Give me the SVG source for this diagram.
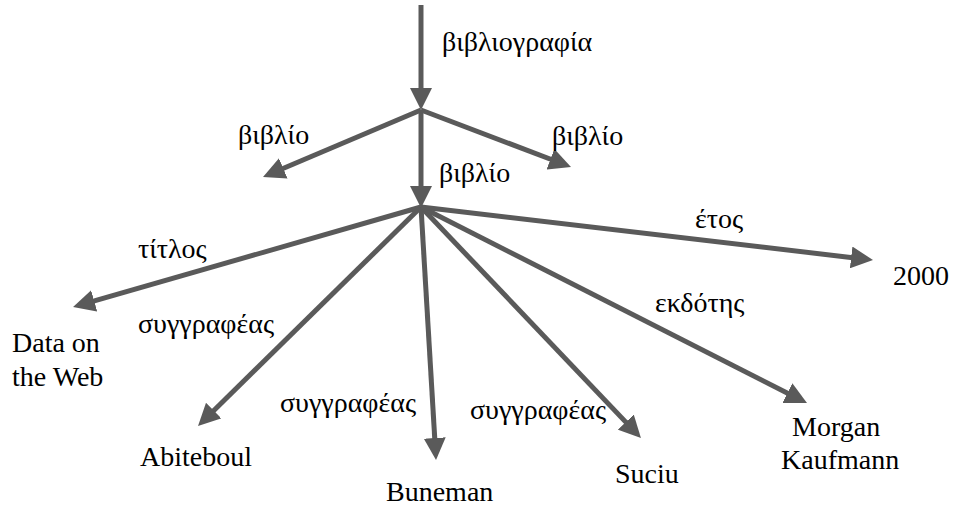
<svg xmlns="http://www.w3.org/2000/svg" width="953" height="508" viewBox="0 0 953 508">
  <style>
    .edge { stroke: #5a5a5a; stroke-width: 5; fill: none; marker-end: url(#head); }
    .lbl { font-family: "Liberation Serif", "Times New Roman", serif; font-size: 28px; fill: #000; }
    .val { font-family: "Liberation Serif", "Times New Roman", serif; font-size: 28px; fill: #000; }
  </style>
  <defs>
    <marker id="head" markerUnits="userSpaceOnUse" viewBox="0 0 22 22" markerWidth="22" markerHeight="22" refX="8" refY="11" orient="auto">
      <path d="M0,0 L22,11 L0,22 z" fill="#5a5a5a"/>
    </marker>
  </defs>
  <rect width="953" height="508" fill="#ffffff"/>

  <g id="connectors">
    <line class="edge" x1="421" y1="5" x2="421" y2="96"/>
    <line class="edge" x1="421" y1="110" x2="275.9" y2="171.5"/>
    <line class="edge" x1="421" y1="110" x2="557.9" y2="162"/>
    <line class="edge" x1="421" y1="110" x2="421" y2="194"/>
    <line class="edge" x1="421" y1="207" x2="86.5" y2="303.1"/>
    <line class="edge" x1="421" y1="207" x2="208" y2="416.2"/>
    <line class="edge" x1="421" y1="207" x2="435.2" y2="446"/>
    <line class="edge" x1="421" y1="207" x2="631.3" y2="427.9"/>
    <line class="edge" x1="421" y1="207" x2="794.5" y2="396.7"/>
    <line class="edge" x1="421" y1="207" x2="859.1" y2="258.4"/>
  </g>

  <g id="edge-labels">
    <text class="lbl" x="442" y="51">βιβλιογραφία</text>
    <text class="lbl" x="238" y="144">βιβλίο</text>
    <text class="lbl" x="552" y="145">βιβλίο</text>
    <text class="lbl" x="439" y="182">βιβλίο</text>
    <text class="lbl" x="138" y="258">τίτλος</text>
    <text class="lbl" x="138" y="333">συγγραφέας</text>
    <text class="lbl" x="695" y="228">έτος</text>
    <text class="lbl" x="655" y="312">εκδότης</text>
    <text class="lbl" x="280" y="412">συγγραφέας</text>
    <text class="lbl" x="470" y="419">συγγραφέας</text>
  </g>

  <g id="node-data-on-the-web">
    <text class="val" x="12" y="352">Data on</text>
    <text class="val" x="12" y="386">the Web</text>
  </g>
  <g id="node-abiteboul">
    <text class="val" x="140" y="466">Abiteboul</text>
  </g>
  <g id="node-buneman">
    <text class="val" x="386" y="501">Buneman</text>
  </g>
  <g id="node-suciu">
    <text class="val" x="615" y="483">Suciu</text>
  </g>
  <g id="node-morgan-kaufmann">
    <text class="val" x="792" y="436">Morgan</text>
    <text class="val" x="781" y="469">Kaufmann</text>
  </g>
  <g id="node-2000">
    <text class="val" x="893" y="285">2000</text>
  </g>
</svg>
